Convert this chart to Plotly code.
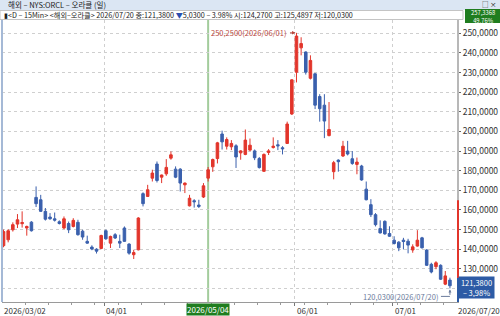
import plotly.graph_objects as go
import pandas as pd

# ---------------- data ----------------
start_date = "2026-03-02"
end_date = "2026-07-20"
market_holidays = ["2026-04-03", "2026-05-25", "2026-06-19", "2026-07-03"]
dates = [d.strftime("%Y/%m/%d") for d in pd.bdate_range(start_date, end_date)
         if d.strftime("%Y-%m-%d") not in market_holidays]

opens = [141.8, 144.8, 149.9, 152.8, 153.0, 150.8, 153.8, 166.4, 165.2, 159.3,
         156.4, 155.5, 154.0, 150.8, 153.1, 151.6, 153.7, 149.2, 144.0, 141.1,
         140.0, 140.4, 149.4, 143.1, 147.4, 144.0, 150.8, 142.6, 137.2, 139.7,
         168.3, 166.9, 176.2, 183.4, 176.7, 178.4, 186.4, 180.8, 180.8, 172.8,
         162.1, 164.7, 162.5, 166.6, 176.2, 182.0, 186.2, 198.7, 192.5, 192.2,
         192.7, 189.1, 188.3, 190.5, 190.1, 186.2, 179.7, 189.3, 191.8, 193.2,
         191.7, 193.9, 208.9, 230.2, 242.6, 240.5, 227.1, 229.4, 217.8, 213.4,
         197.9, 179.5, 185.4, 187.5, 190.0, 186.1, 183.2, 182.4, 170.6, 162.7,
         157.6, 150.5, 154.2, 148.0, 144.6, 143.6, 144.6, 144.1, 139.6, 141.6,
         145.8, 139.6, 132.3, 131.1, 131.8, 122.2, 124.27]
highs = [150.0, 150.2, 153.7, 157.9, 159.3, 152.0, 154.3, 172.0, 167.7, 161.0,
         158.4, 158.7, 154.7, 156.7, 154.1, 155.8, 155.0, 149.9, 146.9, 142.0,
         140.5, 147.4, 150.0, 146.9, 148.2, 147.4, 151.6, 143.1, 139.7, 156.3,
         169.0, 172.8, 180.5, 184.7, 178.0, 185.9, 189.8, 182.2, 181.3, 174.0,
         167.7, 165.5, 165.2, 173.7, 181.9, 186.2, 194.7, 200.4, 197.0, 195.6,
         193.5, 190.5, 201.0, 196.4, 190.8, 187.0, 188.8, 191.0, 197.0, 195.6,
         192.5, 205.0, 226.6, 250.25, 248.0, 240.8, 238.8, 229.6, 219.0, 219.0,
         215.0, 185.0, 185.8, 195.2, 195.2, 190.0, 186.7, 183.0, 174.5, 165.5,
         158.4, 154.7, 154.7, 151.7, 146.6, 144.1, 145.8, 145.3, 142.5, 149.7,
         146.3, 140.0, 133.1, 133.9, 132.3, 128.9, 125.4897]
lows = [141.0, 143.5, 149.0, 150.8, 151.0, 146.9, 149.0, 161.5, 159.0, 154.6,
        155.0, 154.1, 152.6, 150.2, 148.2, 151.1, 146.9, 144.8, 142.8, 139.5,
        137.8, 140.0, 144.8, 140.6, 145.2, 140.6, 143.8, 137.2, 135.0, 139.4,
        161.8, 166.6, 174.5, 174.0, 173.7, 177.4, 185.6, 176.2, 169.4, 168.6,
        161.8, 161.2, 161.0, 166.1, 174.5, 179.4, 183.7, 190.8, 190.8, 190.5,
        181.4, 185.6, 187.9, 189.9, 185.4, 181.1, 179.4, 188.0, 191.3, 190.5,
        188.3, 193.6, 208.4, 225.0, 238.8, 229.0, 226.5, 211.4, 205.0, 196.6,
        197.5, 175.6, 179.5, 187.0, 187.8, 183.0, 178.2, 174.9, 164.9, 156.4,
        151.6, 148.0, 147.4, 146.3, 142.4, 139.0, 139.9, 137.9, 138.2, 141.3,
        140.4, 131.5, 127.7, 129.8, 124.3, 121.7, 120.03]
closes = [149.0, 149.4, 152.5, 155.0, 153.6, 151.6, 149.4, 163.2, 159.3, 155.3,
          155.5, 154.8, 153.1, 155.5, 149.9, 154.7, 147.4, 146.2, 143.1, 140.1,
          139.0, 147.0, 145.3, 146.5, 145.7, 143.1, 144.0, 138.0, 138.3, 155.9,
          163.2, 170.3, 178.8, 175.0, 177.8, 181.7, 188.1, 176.7, 173.7, 173.7,
          166.0, 164.2, 161.8, 172.3, 180.5, 185.7, 194.2, 194.7, 195.9, 193.9,
          187.0, 190.1, 195.6, 193.0, 186.6, 181.6, 188.3, 190.1, 192.5, 192.7,
          191.2, 203.8, 226.3, 248.6, 244.8, 230.2, 236.2, 213.4, 211.6, 205.3,
          201.0, 184.1, 184.6, 192.5, 188.5, 183.7, 184.4, 175.3, 165.2, 157.6,
          152.5, 148.3, 147.8, 146.6, 142.9, 140.7, 143.9, 142.1, 141.2, 144.6,
          140.7, 131.8, 128.4, 133.1, 124.7, 126.41, 121.38]

y_tick_values = [120, 130, 140, 150, 160, 170, 180, 190, 200, 210, 220, 230, 240, 250]
x_labels = ["04/01", "06/01", "07/01"]
x_label_dates = ["2026/04/01", "2026/06/01", "2026/07/01"]
first_label = "2026/03/02"
cursor_date = "2026/05/04"
cursor_value_text = "257,3368"
cursor_pct_text = "49.76%"
axis_mark_top = 165.0

title_text = "해외 – NYS:ORCL – 오라클 (일)"
period_text = "<D – 15Min>"
name_text = "<해외–오라클>"

# ---------------- styling ----------------
RED = "#e2352b"
BLUE = "#3a60ad"
FONT = "Liberation Sans Narrow, Noto Sans CJK KR, sans-serif"
KFONT = "Liberation Sans Narrow, Noto Sans CJK KR, sans-serif"


def kfmt(v, nd=4):
    return f"{v:.{nd}f}".replace(".", ",")


n = len(dates)
xs = list(range(n))
idx = {d: i for i, d in enumerate(dates)}
GRID_OFF = -0.35

fig = go.Figure()
fig.add_trace(go.Candlestick(
    x=xs, open=opens, high=highs, low=lows, close=closes,
    increasing=dict(line=dict(color=RED, width=1), fillcolor=RED),
    decreasing=dict(line=dict(color=BLUE, width=1), fillcolor=BLUE),
    whiskerwidth=0, hoverinfo="skip", showlegend=False,
))

y_lo, y_hi = 113.1, 256.8
# price-box hides the lowest tick label
hidden_label = 120
y_tick_text = ["" if v == hidden_label else kfmt(v) for v in y_tick_values]

fig.update_layout(
    width=500, height=316,
    margin=dict(l=2, r=35, t=20, b=14),
    paper_bgcolor="white", plot_bgcolor="white",
    showlegend=False,
    boxgap=0.22,
    xaxis=dict(
        range=[-0.33, 97.52], rangeslider=dict(visible=False),
        tickvals=[idx[d] + GRID_OFF for d in x_label_dates],
        showticklabels=False, ticks="outside", ticklen=3, tickcolor="#777",
        showgrid=True, gridcolor="#cfcfcf", griddash="dot", gridwidth=1,
        showline=True, linecolor="#9a9a9a", linewidth=1, zeroline=False,
        minor=dict(dtick=5, tick0=GRID_OFF, ticks="outside", ticklen=2, tickcolor="#999", showgrid=False),
    ),
    yaxis=dict(
        side="right", range=[y_lo, y_hi],
        tickvals=y_tick_values, ticktext=y_tick_text,
        ticks="outside", ticklen=2, tickcolor="#666",
        tickfont=dict(family=FONT, size=8.5, color="#333"),
        showgrid=True, gridcolor="#cfcfcf", griddash="dot", gridwidth=1,
        showline=True, linecolor="#b8b8b8", linewidth=2, zeroline=False,
    ),
)

shapes = []
# left border
shapes.append(dict(type="line", xref="paper", yref="paper", x0=0, x1=0, y0=0, y1=1,
                   line=dict(color="#a5b9d6", width=2)))
# cursor line
ci = idx[cursor_date]
shapes.append(dict(type="line", xref="x", yref="paper", x0=ci, x1=ci, y0=0, y1=1,
                   line=dict(color="#a3cc9c", width=2), layer="below"))
# title bar
shapes.append(dict(type="rect", xref="paper", yref="paper", xsizemode="pixel", ysizemode="pixel",
                   xanchor=0, yanchor=1, x0=-2, x1=498, y0=10, y1=20,
                   fillcolor="#dbe6f3", line=dict(width=0)))
# info row
shapes.append(dict(type="rect", xref="paper", yref="paper", xsizemode="pixel", ysizemode="pixel",
                   xanchor=0, yanchor=1, x0=-2, x1=461, y0=0.5, y1=9.5,
                   fillcolor="white", line=dict(color="#c4c4c4", width=1)))
# green cursor value box
shapes.append(dict(type="rect", xref="paper", yref="paper", xsizemode="pixel", ysizemode="pixel",
                   xanchor=0, yanchor=1, x0=463, x1=498, y0=-3, y1=11,
                   fillcolor="#1f7d1f", line=dict(width=0)))
# axis marks (red / blue)
shapes.append(dict(type="line", xref="paper", yref="y", xsizemode="pixel", xanchor=1,
                   x0=1, x1=1, y0=axis_mark_top, y1=closes[-1] + 4,
                   line=dict(color=RED, width=2)))
shapes.append(dict(type="line", xref="paper", yref="y", xsizemode="pixel", xanchor=1,
                   x0=1, x1=1, y0=closes[-1] + 4, y1=y_lo,
                   line=dict(color="#2d5ba5", width=2)))
# low connector
lo_i = min(range(n), key=lambda i: lows[i])
LOWC = "#6b7b9c"
shapes.append(dict(type="line", xref="x", yref="y", xsizemode="pixel", ysizemode="pixel",
                   xanchor=lo_i, yanchor=lows[lo_i], x0=-9, x1=0, y0=-8, y1=-8,
                   line=dict(color=LOWC, width=1)))
fig.update_layout(shapes=shapes)

ann = []
XL_FONT = dict(family=FONT, size=8, color="#333")
# x labels
ann.append(dict(xref="paper", yref="paper", x=0, y=0, xanchor="left", yanchor="top",
                yshift=-1, text=first_label, showarrow=False, font=XL_FONT))
for lab, d in zip(x_labels, x_label_dates):
    ann.append(dict(xref="x", yref="paper", x=idx[d] + GRID_OFF, y=0, xanchor="left", yanchor="top",
                    yshift=-1, text=lab, showarrow=False, font=XL_FONT))
ann.append(dict(xref="x", yref="paper", x=ci, y=0, xanchor="center", yanchor="top", yshift=-1,
                text=cursor_date, showarrow=False, bgcolor="#1f7d1f", borderpad=0,
                font=dict(family=FONT, size=8, color="white")))
ann.append(dict(xref="paper", yref="paper", x=1, y=0, xanchor="left", yanchor="top", xshift=-1,
                yshift=-1, text=dates[-1], showarrow=False, font=XL_FONT))
# high annotation (text + separate arrow)
hi_i = max(range(n), key=lambda i: highs[i])
HIC = "#b8463b"
ann.append(dict(xref="x", yref="y", x=hi_i, y=highs[hi_i], xanchor="right", yanchor="middle",
                xshift=-8, text=f"{kfmt(highs[hi_i])}({dates[hi_i]})", showarrow=False,
                font=dict(family=FONT, size=7.5, color=HIC)))
ann.append(dict(xref="x", yref="y", x=hi_i, y=highs[hi_i], ax=-8, ay=0, text="", showarrow=True,
                arrowhead=2, arrowsize=0.7, arrowwidth=1, arrowcolor=HIC, standoff=1))
# low annotation
ann.append(dict(xref="x", yref="y", x=lo_i, y=lows[lo_i], xanchor="right", yanchor="middle",
                xshift=-10, yshift=-8, text=f"{kfmt(lows[lo_i])}({dates[lo_i]})", showarrow=False,
                font=dict(family=FONT, size=7.5, color=LOWC)))
ann.append(dict(xref="x", yref="y", x=lo_i, y=lows[lo_i], ax=0, ay=8, text="", showarrow=True,
                arrowhead=2, arrowsize=0.6, arrowwidth=1, arrowcolor=LOWC, standoff=1))
# current price box
chg = closes[-1] - closes[-2]
pct = chg / closes[-2] * 100
ann.append(dict(xref="paper", yref="y", x=1, y=closes[-1], xanchor="left", yanchor="middle",
                xshift=1, yshift=-1.5, width=33, height=19,
                text=f"{kfmt(closes[-1])}<br>– {kfmt(abs(pct), 2)}%", showarrow=False,
                bgcolor="#2d5ba5", font=dict(family=FONT, size=7.5, color="white"), align="center"))
# title bar text
ann.append(dict(xref="paper", yref="paper", x=0, y=1, xanchor="left", yanchor="middle",
                xshift=4, yshift=15.5, text=title_text, showarrow=False,
                font=dict(family=KFONT, size=7.5, color="#222")))
ann.append(dict(xref="paper", yref="paper", x=0, y=1, xanchor="right", yanchor="middle",
                xshift=496, yshift=16.5, text="□ ×", showarrow=False,
                font=dict(family=KFONT, size=6.5, color="#222")))
# info row text
arrow = "▼" if chg < 0 else "▲"
info = (f"▮{period_text} {name_text} {dates[-1]} 종:{kfmt(closes[-1])} "
        f"<span style='color:#2a4fb0'>{arrow}</span>{kfmt(abs(chg))} – {abs(pct):.2f}% "
        f"시:{kfmt(opens[-1])} 고:{kfmt(highs[-1])} 저:{kfmt(lows[-1])}")
ann.append(dict(xref="paper", yref="paper", x=0, y=1, xanchor="left", yanchor="middle",
                xshift=0, yshift=5.5, text=info, showarrow=False,
                font=dict(family=KFONT, size=7.2, color="#222")))
# cursor value box text (two lines in one text block)
ann.append(dict(xref="paper", yref="paper", x=0, y=1, xanchor="center", yanchor="middle",
                xshift=480.5, yshift=4, text=f"{cursor_value_text}<br>{cursor_pct_text}",
                showarrow=False, align="center",
                font=dict(family=FONT, size=5.8, color="white")))
fig.update_layout(annotations=ann)

fig.write_html("out.html")
